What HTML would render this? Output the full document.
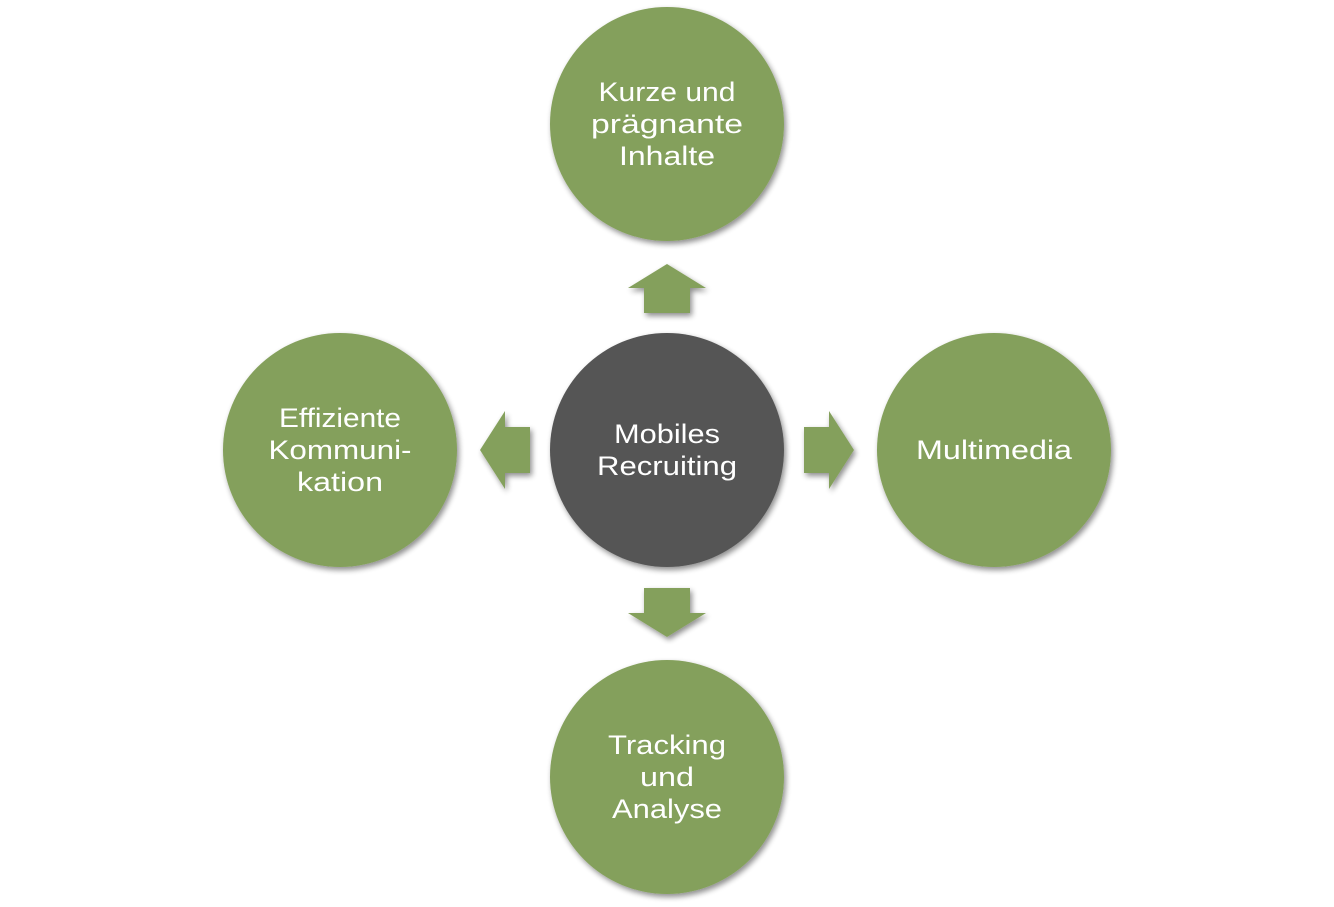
<!DOCTYPE html>
<html><head><meta charset="utf-8"><style>
html,body{margin:0;padding:0;background:#fff;width:1334px;height:907px;overflow:hidden}
text{font-family:"Liberation Sans",sans-serif;fill:#fff;font-size:27px;text-anchor:middle}
</style></head><body>
<svg width="1334" height="907" viewBox="0 0 1334 907" xmlns="http://www.w3.org/2000/svg">
<defs>
<filter id="sh" x="-20%" y="-20%" width="140%" height="140%">
<feGaussianBlur in="SourceAlpha" stdDeviation="3"/>
<feOffset dx="2" dy="3" result="o"/>
<feComponentTransfer><feFuncA type="linear" slope="0.45"/></feComponentTransfer>
<feMerge><feMergeNode/><feMergeNode in="SourceGraphic"/></feMerge>
</filter>
</defs>
<g filter="url(#sh)" fill="#84a05b">
<circle cx="667" cy="124" r="117"/>
<circle cx="340" cy="450" r="117"/>
<circle cx="994" cy="450" r="117"/>
<circle cx="667" cy="777" r="117"/>
<circle cx="667" cy="450" r="117" fill="#555555"/>
<polygon points="667,264 706,288 690,288 690,313 644,313 644,288 628,288"/>
<polygon points="667,637 706,613 690,613 690,588 644,588 644,613 628,613"/>
<polygon points="854,450 829,411 829,427 804,427 804,473 829,473 829,489"/>
<polygon points="480,450 505,411 505,427 530,427 530,473 505,473 505,489"/>
</g>
<text x="667" y="101" textLength="137" lengthAdjust="spacingAndGlyphs">Kurze und</text>
<text x="667" y="133" textLength="152" lengthAdjust="spacingAndGlyphs">prägnante</text>
<text x="667" y="165" textLength="96" lengthAdjust="spacingAndGlyphs">Inhalte</text>
<text x="667" y="443" textLength="106" lengthAdjust="spacingAndGlyphs">Mobiles</text>
<text x="667" y="475" textLength="140" lengthAdjust="spacingAndGlyphs">Recruiting</text>
<text x="340" y="427" textLength="122" lengthAdjust="spacingAndGlyphs">Effiziente</text>
<text x="340" y="459" textLength="143" lengthAdjust="spacingAndGlyphs">Kommuni-</text>
<text x="340" y="491" textLength="86" lengthAdjust="spacingAndGlyphs">kation</text>
<text x="994" y="459" textLength="156" lengthAdjust="spacingAndGlyphs">Multimedia</text>
<text x="667" y="754" textLength="118" lengthAdjust="spacingAndGlyphs">Tracking</text>
<text x="667" y="786" textLength="54" lengthAdjust="spacingAndGlyphs">und</text>
<text x="667" y="818" textLength="110" lengthAdjust="spacingAndGlyphs">Analyse</text>
</svg>
</body></html>
